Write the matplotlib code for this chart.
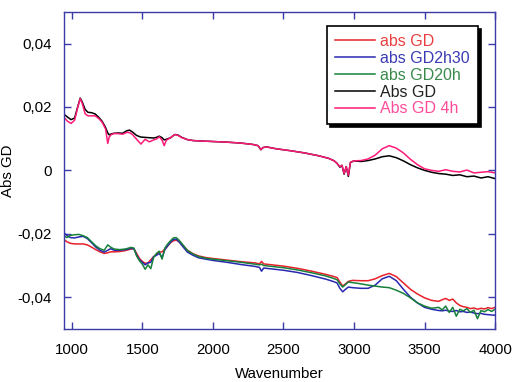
import matplotlib
matplotlib.use("Agg")
import matplotlib.pyplot as plt
from matplotlib.ticker import FuncFormatter

plt.rcParams['font.family'] = ['Liberation Sans', 'DejaVu Sans']

# upper pair of spectra
wn_top = [945, 970, 995, 1020, 1045, 1060, 1075, 1095, 1115, 1140, 1165, 1190, 1215, 1240,
          1255, 1265, 1280, 1300, 1330, 1360, 1390, 1410, 1430, 1460, 1490, 1520, 1550, 1580,
          1600, 1620, 1640, 1655, 1670, 1700, 1730, 1750, 1780, 1820, 1860, 1900, 1950, 2000,
          2100, 2200, 2280, 2320, 2340, 2355, 2380, 2450, 2550, 2650, 2750, 2820, 2860, 2880,
          2900, 2915, 2930, 2945, 2960, 2975, 3000, 3050, 3100, 3150, 3200, 3250, 3300, 3350,
          3400, 3450, 3500, 3550, 3600, 3650, 3700, 3750, 3800, 3850, 3900, 3950, 4000]

abs_gd_black = [0.0177, 0.0168, 0.0160, 0.0165, 0.0205, 0.0228, 0.0215, 0.0192, 0.0183, 0.0182,
                0.0178, 0.0168, 0.0155, 0.0135, 0.0118, 0.0112, 0.0115, 0.0117, 0.0118, 0.0117,
                0.0125, 0.0127, 0.0121, 0.0110, 0.0105, 0.0104, 0.0103, 0.0102, 0.0104, 0.0108,
                0.0103, 0.0096, 0.0098, 0.0103, 0.0113, 0.0112, 0.0104, 0.0097, 0.0094, 0.0093,
                0.0092, 0.0091, 0.0089, 0.0086, 0.0082, 0.0078, 0.0065, 0.0072, 0.0074, 0.0068,
                0.0062, 0.0055, 0.0046, 0.0038, 0.0030, 0.0022, 0.0010, 0.0016, -0.0012, 0.0012,
                -0.0019, 0.0025, 0.0030, 0.0028, 0.0031, 0.0036, 0.0043, 0.0046, 0.0040, 0.0030,
                0.0018, 0.0008, 0.0000, -0.0006, -0.0010, -0.0012, -0.0016, -0.0014, -0.0020,
                -0.0018, -0.0024, -0.0020, -0.0026]

abs_gd_4h = [0.0167, 0.0155, 0.0148, 0.0158, 0.0203, 0.0226, 0.0210, 0.0178, 0.0172, 0.0172,
             0.0172, 0.0164, 0.0152, 0.0130, 0.0085, 0.0105, 0.0113, 0.0116, 0.0116, 0.0114,
             0.0120, 0.0119, 0.0113, 0.0098, 0.0083, 0.0098, 0.0090, 0.0096, 0.0099, 0.0106,
             0.0095, 0.0078, 0.0095, 0.0103, 0.0113, 0.0111, 0.0103, 0.0097, 0.0094, 0.0093,
             0.0092, 0.0091, 0.0089, 0.0086, 0.0082, 0.0078, 0.0066, 0.0072, 0.0074, 0.0068,
             0.0062, 0.0055, 0.0046, 0.0038, 0.0030, 0.0022, 0.0012, 0.0016, -0.0010, 0.0012,
             -0.0015, 0.0026, 0.0030, 0.0031, 0.0036, 0.0048, 0.0068, 0.0078, 0.0070, 0.0055,
             0.0035, 0.0018, 0.0005, 0.0000, -0.0003, 0.0002, -0.0003, -0.0005, 0.0001,
             -0.0008, -0.0006, -0.0004, -0.0008]

# lower triple of spectra
wn_bot = [945, 965, 990, 1020, 1050, 1080, 1110, 1140, 1170, 1200, 1230, 1255, 1275, 1300,
          1340, 1380, 1420, 1440, 1460, 1480, 1500, 1520, 1540, 1560, 1580, 1600, 1620, 1640,
          1660, 1680, 1700, 1720, 1740, 1760, 1790, 1820, 1860, 1900, 1950, 2000, 2100, 2200,
          2300, 2330, 2345, 2360, 2400, 2500, 2600, 2700, 2800, 2850, 2880, 2900, 2920, 2940,
          2960, 2990, 3050, 3100, 3150, 3200, 3250, 3300, 3350, 3400, 3450, 3500, 3550, 3600,
          3625, 3650, 3675, 3700, 3725, 3750, 3775, 3800, 3825, 3850, 3875, 3900, 3925, 3950,
          3975, 4000]

abs_gd_red = [-0.0218, -0.0225, -0.0230, -0.0232, -0.0232, -0.0232, -0.0235, -0.0242, -0.0250,
              -0.0257, -0.0262, -0.0260, -0.0257, -0.0257, -0.0256, -0.0253, -0.0248, -0.0247,
              -0.0262, -0.0278, -0.0287, -0.0293, -0.0292, -0.0282, -0.0272, -0.0265, -0.0258,
              -0.0257, -0.0248, -0.0238, -0.0228, -0.0222, -0.0220, -0.0225, -0.0238, -0.0252,
              -0.0263, -0.0270, -0.0275, -0.0278, -0.0283, -0.0288, -0.0292, -0.0295, -0.0287,
              -0.0295, -0.0297, -0.0302, -0.0309, -0.0318, -0.0328, -0.0334, -0.0338, -0.0352,
              -0.0365, -0.0358, -0.0350, -0.0347, -0.0348, -0.0348, -0.0342, -0.0332, -0.0325,
              -0.0335, -0.0355, -0.0375, -0.0390, -0.0402, -0.0410, -0.0413, -0.0408, -0.0404,
              -0.0410, -0.0406, -0.0418, -0.0426, -0.0430, -0.0432, -0.0436, -0.0434, -0.0438,
              -0.0435, -0.0437, -0.0433, -0.0436, -0.0432]

abs_gd_2h30 = [-0.0197, -0.0205, -0.0212, -0.0213, -0.0210, -0.0208, -0.0215, -0.0228, -0.0242,
               -0.0252, -0.0258, -0.0252, -0.0247, -0.0252, -0.0252, -0.0250, -0.0246, -0.0247,
               -0.0268, -0.0282, -0.0290, -0.0298, -0.0292, -0.0290, -0.0272, -0.0268, -0.0262,
               -0.0275, -0.0250, -0.0238, -0.0226, -0.0218, -0.0217, -0.0225, -0.0242, -0.0258,
               -0.0268, -0.0276, -0.0280, -0.0284, -0.0290, -0.0297, -0.0303, -0.0306, -0.0318,
               -0.0308, -0.0310, -0.0315, -0.0322, -0.0332, -0.0343, -0.0350, -0.0355, -0.0372,
               -0.0383, -0.0375, -0.0368, -0.0370, -0.0372, -0.0372, -0.0362, -0.0342, -0.0334,
               -0.0348, -0.0375, -0.0400, -0.0418, -0.0432, -0.0438, -0.0442, -0.0443, -0.0441,
               -0.0444, -0.0445, -0.0442, -0.0446, -0.0445, -0.0448, -0.0447, -0.0450, -0.0452,
               -0.0451, -0.0454, -0.0455, -0.0456, -0.0457]

abs_gd_20h = [-0.0207, -0.0212, -0.0205, -0.0203, -0.0202, -0.0206, -0.0212, -0.0225, -0.0238,
              -0.0247, -0.0252, -0.0235, -0.0242, -0.0248, -0.0250, -0.0248, -0.0243, -0.0245,
              -0.0270, -0.0285, -0.0296, -0.0312, -0.0298, -0.0310, -0.0275, -0.0262, -0.0255,
              -0.0280, -0.0245, -0.0232, -0.0222, -0.0213, -0.0212, -0.0220, -0.0236, -0.0253,
              -0.0264, -0.0272, -0.0277, -0.0280, -0.0285, -0.0290, -0.0296, -0.0298, -0.0296,
              -0.0300, -0.0302, -0.0307, -0.0314, -0.0323, -0.0333, -0.0340, -0.0345, -0.0358,
              -0.0368, -0.0360, -0.0352, -0.0354, -0.0358, -0.0362, -0.0365, -0.0368, -0.0370,
              -0.0378, -0.0388, -0.0402, -0.0418, -0.0428, -0.0435, -0.0432, -0.0440, -0.0428,
              -0.0448, -0.0432, -0.0460, -0.0438, -0.0443, -0.0436, -0.0448, -0.0441, -0.0468,
              -0.0442, -0.0446, -0.0439, -0.0445, -0.0438]

labels = ['abs GD', 'abs GD2h30', 'abs GD20h', 'Abs GD', 'Abs GD 4h']
line_colors = ['#e8202a', '#2828b0', '#17803a', '#000000', '#ff1a78']
text_colors = ['#ea3f3f', '#3b3bb5', '#3a8a4c', '#202020', '#ff4d9a']

frame_blue = '#3a3aa8'

fig = plt.figure(figsize=(5.12, 3.82), dpi=100)
ax = fig.add_axes([0.125, 0.139, 0.842, 0.830])

ax.plot(wn_bot, abs_gd_red, color=line_colors[0], lw=1.1, label=labels[0])
ax.plot(wn_bot, abs_gd_2h30, color=line_colors[1], lw=1.1, label=labels[1])
ax.plot(wn_bot, abs_gd_20h, color=line_colors[2], lw=1.1, label=labels[2])
ax.plot(wn_top, abs_gd_black, color=line_colors[3], lw=1.1, label=labels[3])
ax.plot(wn_top, abs_gd_4h, color=line_colors[4], lw=1.1, label=labels[4])

ax.set_xlim(945, 4000)
ax.set_ylim(-0.05, 0.05)
ax.set_xticks([1000, 1500, 2000, 2500, 3000, 3500, 4000])
ax.set_yticks([-0.04, -0.02, 0, 0.02, 0.04])
ax.yaxis.set_major_formatter(FuncFormatter(
    lambda v, pos: '0' if abs(v) < 1e-9 else f'{v:.2f}'.replace('.', ',')))

for sp in ax.spines.values():
    sp.set_color(frame_blue)
    sp.set_linewidth(1.0)
ax.tick_params(direction='in', top=True, right=True, length=5, width=1.0,
               color=frame_blue, labelsize=10.8, labelcolor='black')
ax.tick_params(axis='y', pad=8.5)
ax.tick_params(axis='x', pad=10)

ax.set_xlabel('Wavenumber', fontsize=10.8, labelpad=7)
ax.set_ylabel('Abs GD', fontsize=10.8, labelpad=2)

leg = ax.legend(loc='upper left', bbox_to_anchor=(0.61, 0.956), borderaxespad=0,
                fancybox=False, shadow={'color': 'black', 'alpha': 1.0},
                handlelength=2.5, handletextpad=0.35, labelspacing=0.12,
                fontsize=11.5, borderpad=0.5, framealpha=1)
leg.get_frame().set_edgecolor('black')
leg.get_frame().set_linewidth(1.2)
for txt, c in zip(leg.get_texts(), text_colors):
    txt.set_color(c)

fig.savefig('out.png', dpi=100)
